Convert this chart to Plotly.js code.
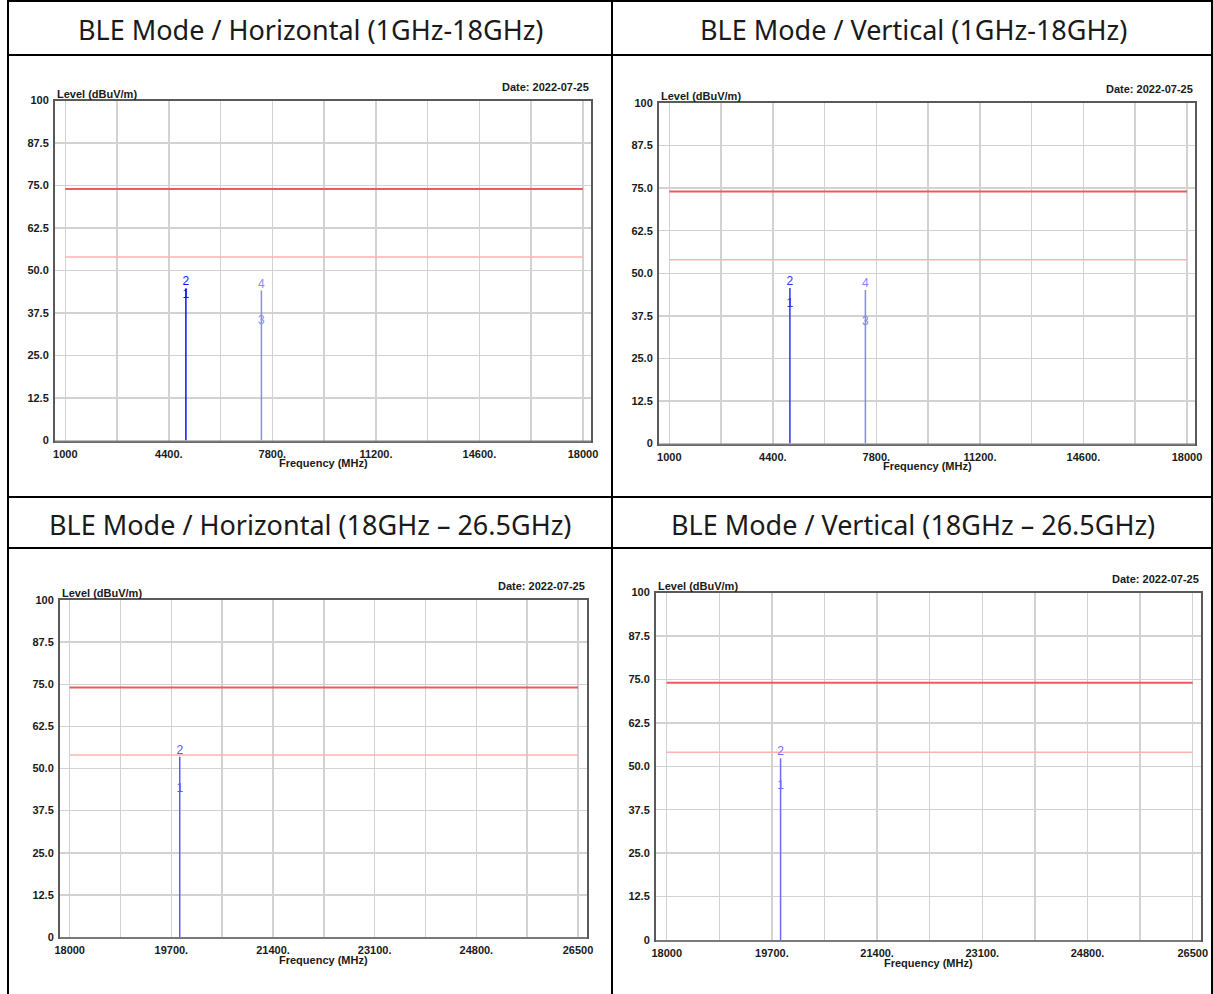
<!DOCTYPE html>
<html>
<head>
<meta charset="utf-8">
<script src="https://cdn.plot.ly/plotly-3.0.1.min.js"></script>
<style>
  html, body { margin: 0; padding: 0; background: #ffffff; }
  #chart { width: 1213px; height: 994px; }
</style>
</head>
<body>
<div id="chart"></div>
<script>
// ---------------- DATA ----------------
const panelTitles = [
  'BLE Mode / Horizontal (1GHz-18GHz)',
  'BLE Mode / Vertical (1GHz-18GHz)',
  'BLE Mode / Horizontal (18GHz \u2013 26.5GHz)',
  'BLE Mode / Vertical (18GHz \u2013 26.5GHz)'
];
const dateText = 'Date: 2022-07-25';
const yAxisLabel = 'Level (dBuV/m)';
const xAxisLabel = 'Frequency (MHz)';

// Tick values / labels
const levelTicks = [0, 12.5, 25, 37.5, 50, 62.5, 75, 87.5, 100];
const levelTickText = ['0', '12.5', '25.0', '37.5', '50.0', '62.5', '75.0', '87.5', '100'];
const freqTicksLow = [1000, 2700, 4400, 6100, 7800, 9500, 11200, 12900, 14600, 16300, 18000];
const freqTickTextLow = ['1000', '', '4400.', '', '7800.', '', '11200.', '', '14600.', '', '18000'];
const freqTicksHigh = [18000, 18850, 19700, 20550, 21400, 22250, 23100, 23950, 24800, 25650, 26500];
const freqTickTextHigh = ['18000', '', '19700.', '', '21400.', '', '23100.', '', '24800.', '', '26500'];

// Limit lines (dBuV/m)
const limitLowX = [1000, 18000];
const limitHighX = [18000, 26500];
const peakLimit = [74, 74];
const avgLimit = [54, 54];

// Markers: frequency (MHz), level (dBuV/m), label
const h1Freq = [4960, 4960, 7440, 7440];
const h1Level = [40.9, 44.8, 33.5, 44.1];
const h1Label = ['1', '2', '3', '4'];

const v1Freq = [4960, 4960, 7440, 7440];
const v1Level = [39.2, 45.7, 33.8, 45.1];
const v1Label = ['1', '2', '3', '4'];

const h2Freq = [19840, 19840];
const h2Level = [42.2, 53.5];
const h2Label = ['1', '2'];

const v2Freq = [19840, 19840];
const v2Level = [42.7, 52.3];
const v2Label = ['1', '2'];

// ---------------- LAYOUT HELPERS ----------------
const W = 1213, H = 994;
const px = x => x / W;
const py = y => 1 - y / H;

// pixel frames of the four plots + spike colours (style only)
const panels = [
  { L: 55,  R: 591,  T: 100.5, B: 440.5, xr: [662, 18263],   cx: 310, cy: 30,
    ticks: freqTicksLow,  text: freqTickTextLow,  limX: limitLowX,
    freq: h1Freq, level: h1Level, label: h1Label,
    colors: { 4960: '#1010ff', 7440: '#8a8aff' } },
  { L: 659, R: 1195, T: 103,   B: 443.5, xr: [662, 18263],   cx: 913, cy: 30,
    ticks: freqTicksLow,  text: freqTickTextLow,  limX: limitLowX,
    freq: v1Freq, level: v1Level, label: v1Label,
    colors: { 4960: '#3030ff', 7440: '#8484ff' } },
  { L: 60,  R: 587,  T: 600,   B: 937,   xr: [17838, 26650], cx: 310, cy: 524,
    ticks: freqTicksHigh, text: freqTickTextHigh, limX: limitHighX,
    freq: h2Freq, level: h2Level, label: h2Label,
    colors: { 19840: '#5a5aff' } },
  { L: 656, R: 1201, T: 592.5, B: 940,   xr: [17827, 26634], cx: 913, cy: 524,
    ticks: freqTicksHigh, text: freqTickTextHigh, limX: limitHighX,
    freq: v2Freq, level: v2Level, label: v2Label,
    colors: { 19840: '#6c6cff' } }
];

const axisFont = { family: '"Liberation Sans", Arial, sans-serif', size: 11, color: '#1a1a1a', weight: 'bold' };
const traces = [];
const layout = {
  width: W, height: H,
  margin: { l: 0, r: 0, t: 0, b: 0 },
  paper_bgcolor: '#ffffff',
  plot_bgcolor: '#ffffff',
  showlegend: false,
  annotations: [],
  shapes: []
};

panels.forEach((p, i) => {
  const n = i === 0 ? '' : String(i + 1);
  const xa = 'x' + n, ya = 'y' + n;

  layout['xaxis' + n] = {
    domain: [px(p.L), px(p.R)],
    anchor: ya,
    range: p.xr,
    tickmode: 'array', tickvals: p.ticks, ticktext: p.text,
    ticks: '', ticklabelstandoff: 2,
    showgrid: true, gridcolor: '#d2d2d2', gridwidth: 1.5,
    zeroline: false,
    showline: true, linecolor: '#5a5a5a', linewidth: 2, mirror: true,
    tickfont: axisFont, fixedrange: true
  };
  layout['yaxis' + n] = {
    domain: [py(p.B), py(p.T)],
    anchor: xa,
    range: [0, 100],
    tickmode: 'array', tickvals: levelTicks, ticktext: levelTickText,
    ticks: '', ticklabelstandoff: 2,
    showgrid: true, gridcolor: '#d2d2d2', gridwidth: 1.5,
    zeroline: false,
    showline: true, linecolor: '#5a5a5a', linewidth: 2, mirror: true,
    tickfont: axisFont, fixedrange: true
  };

  // bottom axis emphasis (thicker grey base line as in the original)
  layout.shapes.push({ type: 'line', xref: 'paper', yref: 'paper',
    x0: px(p.L), x1: px(p.R), y0: py(p.B + 1), y1: py(p.B + 1),
    line: { color: '#7a7a7a', width: 2 } });

  // limit lines
  traces.push({ type: 'scatter', mode: 'lines', x: p.limX, y: peakLimit, xaxis: xa, yaxis: ya,
    line: { color: '#f05a5a', width: 2 }, hoverinfo: 'skip' });
  traces.push({ type: 'scatter', mode: 'lines', x: p.limX, y: avgLimit, xaxis: xa, yaxis: ya,
    line: { color: '#ffb0b0', width: 1.5 }, hoverinfo: 'skip' });

  // spikes: one per distinct frequency, up to the highest marker level there
  const uniq = [...new Set(p.freq)];
  uniq.forEach(f => {
    const top = Math.max(...p.level.filter((_, k) => p.freq[k] === f));
    traces.push({ type: 'scatter', mode: 'lines', x: [f, f], y: [0, top], xaxis: xa, yaxis: ya,
      line: { color: p.colors[f], width: 1.5 }, hoverinfo: 'skip' });
  });

  // marker labels
  traces.push({ type: 'scatter', mode: 'text', x: p.freq, y: p.level, text: p.label,
    xaxis: xa, yaxis: ya, textposition: 'top center',
    textfont: { family: '"Liberation Sans", Arial, sans-serif', size: 12,
                color: p.freq.map(f => p.colors[f]) },
    hoverinfo: 'skip', cliponaxis: false });

  // axis captions
  layout.annotations.push({ xref: 'paper', yref: 'paper', x: px(p.L), y: py(p.T),
    xanchor: 'left', yanchor: 'bottom', yshift: -1, showarrow: false, text: yAxisLabel, font: axisFont });
  layout.annotations.push({ xref: 'paper', yref: 'paper', x: px(p.R), y: py(p.T - 14),
    xanchor: 'right', yanchor: 'middle', showarrow: false, text: dateText, font: axisFont });
  layout.annotations.push({ xref: 'paper', yref: 'paper', x: px((p.L + p.R) / 2), y: py(p.B + 22.5),
    xanchor: 'center', yanchor: 'middle', showarrow: false, text: xAxisLabel, font: axisFont });

  // cell header
  layout.annotations.push({ xref: 'paper', yref: 'paper', x: px(p.cx), y: py(p.cy),
    xanchor: 'center', yanchor: 'middle', showarrow: false, text: panelTitles[i],
    font: { family: '"Noto Sans", "Noto Sans CJK TC", sans-serif', size: 27, color: '#1a1a1a' } });
});

// table grid lines
const tableLine = { color: '#000000', width: 2 };
const hLines = [1, 55, 497, 548];
hLines.forEach(y => layout.shapes.push({ type: 'line', xref: 'paper', yref: 'paper',
  x0: px(8), x1: px(1212), y0: py(y), y1: py(y), line: tableLine }));
[8, 612, 1212].forEach(x => layout.shapes.push({ type: 'line', xref: 'paper', yref: 'paper',
  x0: px(x), x1: px(x), y0: py(0), y1: py(994), line: tableLine }));

Plotly.newPlot('chart', traces, layout, { staticPlot: true, displayModeBar: false });
</script>
</body>
</html>
